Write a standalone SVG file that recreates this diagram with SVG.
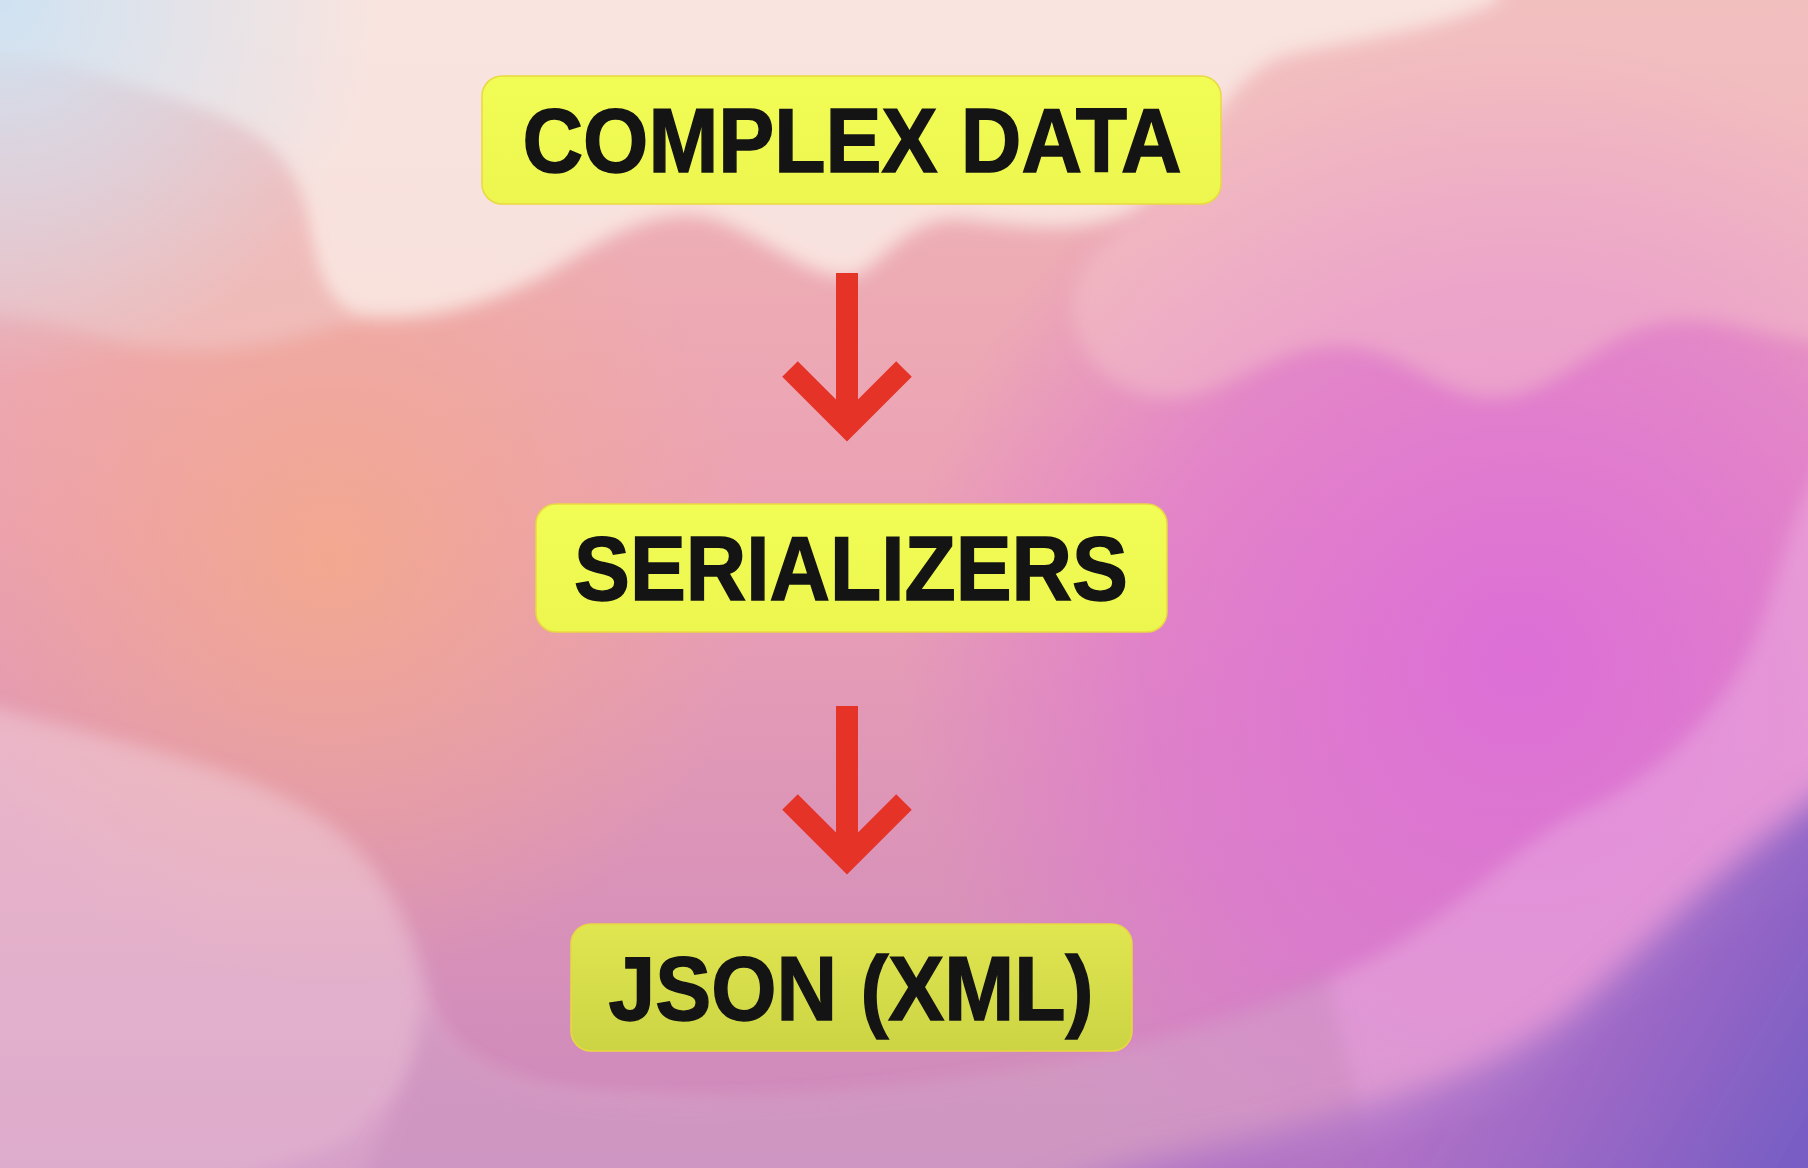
<svg xmlns="http://www.w3.org/2000/svg" width="1808" height="1168" viewBox="0 0 1808 1168">
<defs>
<linearGradient id="base" x1="0" y1="0" x2="0" y2="1168" gradientUnits="userSpaceOnUse">
<stop offset="0" stop-color="#efb8b4"/>
<stop offset="0.45" stop-color="#eba0b4"/>
<stop offset="1" stop-color="#cc88bc"/>
</linearGradient>
<radialGradient id="blue" cx="0" cy="0" r="380" gradientUnits="userSpaceOnUse">
<stop offset="0" stop-color="#cfe2f2"/>
<stop offset="1" stop-color="#cfe2f2" stop-opacity="0"/>
</radialGradient>
<radialGradient id="orange" cx="330" cy="560" r="430" gradientUnits="userSpaceOnUse">
<stop offset="0" stop-color="#f4aa86" stop-opacity="0.8"/>
<stop offset="1" stop-color="#f4aa86" stop-opacity="0"/>
</radialGradient>
<radialGradient id="magenta" cx="1520" cy="660" r="620" gradientUnits="userSpaceOnUse">
<stop offset="0" stop-color="#dc6cd8" stop-opacity="0.95"/>
<stop offset="0.6" stop-color="#dc6cd8" stop-opacity="0.55"/>
<stop offset="1" stop-color="#dc6cd8" stop-opacity="0"/>
</radialGradient>
<linearGradient id="purple" x1="1808" y1="1168" x2="1250" y2="850" gradientUnits="userSpaceOnUse">
<stop offset="0" stop-color="#5a52bc"/>
<stop offset="0.5" stop-color="#7c5ec4"/>
<stop offset="1" stop-color="#a86cc8" stop-opacity="0.7"/>
</linearGradient>
<linearGradient id="yel" x1="0" y1="0" x2="0" y2="1">
<stop offset="0" stop-color="#f1fc55"/>
<stop offset="1" stop-color="#ecf64e"/>
</linearGradient>
<linearGradient id="yel3" x1="0" y1="0" x2="0" y2="1">
<stop offset="0" stop-color="#dfe650"/>
<stop offset="1" stop-color="#cdd444"/>
</linearGradient>
<filter id="soft" x="-10%" y="-10%" width="120%" height="120%"><feGaussianBlur stdDeviation="8"/></filter>
<filter id="soft2" x="-20%" y="-20%" width="140%" height="140%"><feGaussianBlur stdDeviation="14"/></filter>
</defs>
<style>
.box{stroke:#e9d840;stroke-width:1.5}
.lbl{font-family:"Liberation Sans",Arial,sans-serif;font-weight:bold;fill:#141414;stroke:#141414;stroke-width:1.5;text-anchor:middle}
.arrow{fill:none;stroke:#e63328;stroke-width:22;stroke-linejoin:miter;stroke-miterlimit:4}
.shaft{fill:#e63328}
</style>
<g id="background">
<rect width="1808" height="1168" fill="url(#base)"/>
<rect width="1808" height="1168" fill="url(#orange)"/>
<rect width="1808" height="1168" fill="url(#magenta)"/>
<g transform="scale(1.1531)">
<path filter="url(#soft)" fill="#f6c8cc" fill-opacity="0.45" d="M1000,180 C965,200 935,225 930,262 C928,305 965,345 1015,345 C1065,345 1100,300 1160,300 C1220,300 1245,345 1295,345 C1350,345 1385,290 1440,280 C1500,270 1540,300 1610,300 L1610,-40 L1300,-40 C1250,25 1180,35 1120,48 C1060,62 1040,150 1000,180 Z"/>
<path filter="url(#soft)" fill="#fbefea" fill-opacity="0.8" d="M-40,-40 L1300,-40 L1300,0 C1250,25 1180,35 1120,48 C1060,62 1040,150 980,185 C930,205 880,195 830,190 C780,190 760,240 735,240 C700,240 670,210 620,190 C570,175 520,210 470,240 C420,265 370,280 310,275 C275,265 270,220 262,180 C245,120 200,105 140,85 C90,68 40,50 -40,45 Z"/>
<path filter="url(#soft)" fill="#f0cccc" fill-opacity="0.5" d="M-40,45 C40,50 90,68 140,85 C200,105 245,120 262,180 C270,220 275,265 310,275 C250,300 180,310 120,300 C70,290 30,270 -40,270 Z"/>
<path filter="url(#soft)" fill="#ffffff" fill-opacity="0.2" d="M-40,605 C80,640 190,660 260,700 C330,740 360,800 375,870 C390,930 470,950 560,950 C700,960 820,940 920,925 C1020,905 1120,870 1210,820 C1290,770 1330,720 1380,700 C1440,670 1490,620 1520,560 C1545,500 1555,420 1610,360 L1610,760 C1500,780 1400,900 1300,960 C1150,1013 1000,1013 900,1050 L-40,1050 Z"/>
<path filter="url(#soft)" fill="#f0c8d4" fill-opacity="0.3" d="M-40,605 C80,640 190,660 260,700 C330,740 350,800 365,870 C375,930 330,960 300,990 C250,1013 150,1050 -40,1050 Z"/>
<path filter="url(#soft)" fill="#c080b4" fill-opacity="0.35" d="M365,870 C390,930 470,955 560,955 C700,960 820,940 920,925 C1000,912 1080,880 1150,840 L1200,1050 L300,1050 C330,980 360,940 365,870 Z"/>
<path filter="url(#soft2)" fill="url(#purple)" d="M1610,670 C1500,740 1430,820 1360,880 C1280,940 1180,960 1090,985 C1020,1000 950,1013 880,1050 L1610,1050 Z"/>
</g>
<rect width="1808" height="1168" fill="url(#blue)"/>
</g>
<g id="connectors">
<g id="arrow1">
<rect class="shaft" x="836" y="273" width="22" height="150"/>
<polyline class="arrow" points="790,369 847,426 904,369"/>
</g>
<g id="arrow2">
<rect class="shaft" x="836" y="706" width="22" height="150"/>
<polyline class="arrow" points="790,802 847,859 904,802"/>
</g>
</g>
<g id="node-complex-data">
<rect class="box" x="482" y="76" width="739" height="128" rx="20" fill="url(#yel)"/>
<text class="lbl" x="852" y="172" font-size="90" textLength="659" lengthAdjust="spacingAndGlyphs">COMPLEX DATA</text>
</g>
<g id="node-serializers">
<rect class="box" x="536" y="504" width="631" height="128" rx="20" fill="url(#yel)"/>
<text class="lbl" x="851" y="600" font-size="90" textLength="554" lengthAdjust="spacingAndGlyphs">SERIALIZERS</text>
</g>
<g id="node-json">
<rect class="box" x="571" y="924" width="561" height="127" rx="20" fill="url(#yel3)"/>
<text class="lbl" x="851" y="1020" font-size="90" textLength="485" lengthAdjust="spacingAndGlyphs">JSON (XML)</text>
</g>
</svg>
